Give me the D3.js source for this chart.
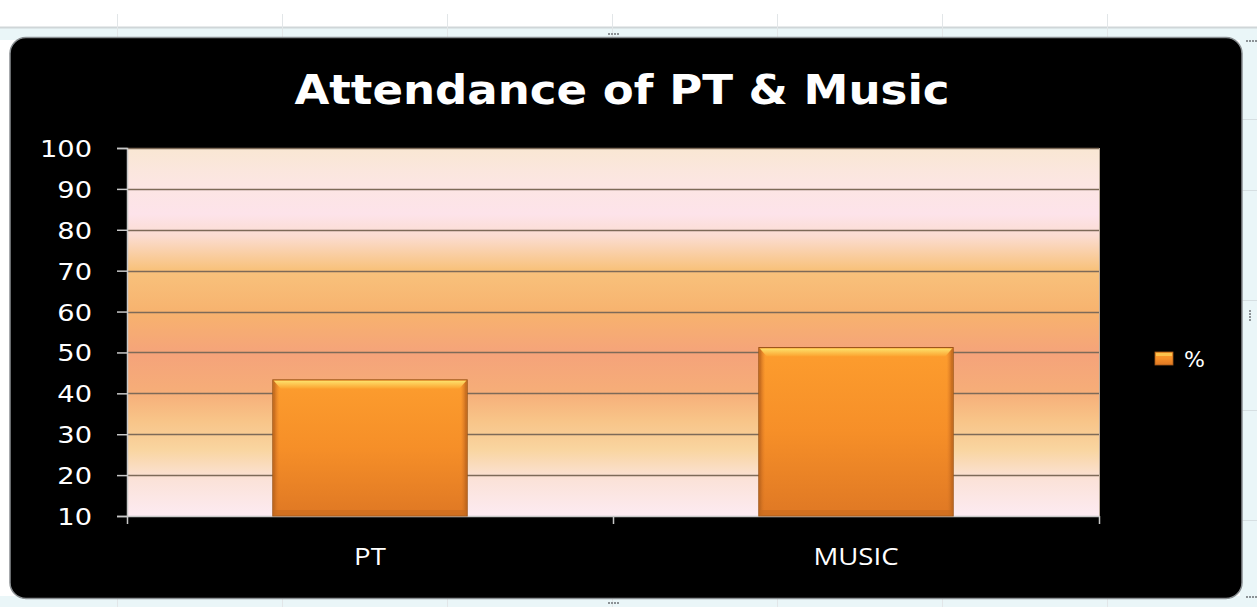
<!DOCTYPE html>
<html>
<head>
<meta charset="utf-8">
<script src="https://cdn.jsdelivr.net/npm/d3@7"></script>
<style>
  html, body { margin: 0; padding: 0; background: #ffffff; }
  svg { display: block; }
</style>
</head>
<body>
<div id="chart"></div>
<script>
// data
const categories = ['PT', 'MUSIC'];
const values = [43.3, 51.2];
const seriesName = '%';
const yTicks = [10, 20, 30, 40, 50, 60, 70, 80, 90, 100];
const title = 'Attendance of PT & Music';

const W = 1257, H = 607;
const plot = { left: 127, right: 1099, top: 148, bottom: 516 };

const svg = d3.select('#chart').append('svg')
  .attr('width', W)
  .attr('height', H);

const defs = svg.append('defs');

// plot background gradient
const bg = defs.append('linearGradient')
  .attr('id', 'plotBg')
  .attr('x1', 0).attr('y1', 0).attr('x2', 0).attr('y2', 1);
[[0, '#f9e7d3'], [0.09, '#fce6e2'], [0.18, '#fde3ea'], [0.24, '#fbdcd0'],
 [0.33, '#f8c27c'], [0.45, '#f7b26e'], [0.56, '#f5a37a'], [0.66, '#f6ad78'],
 [0.74, '#f8c488'], [0.82, '#f9d5a0'], [0.9, '#fbe2d8'], [1, '#fdebf2']]
  .forEach(s => bg.append('stop').attr('offset', s[0]).attr('stop-color', s[1]));

// bar gradient
const barG = defs.append('linearGradient')
  .attr('id', 'barFill')
  .attr('x1', 0).attr('y1', 0).attr('x2', 0).attr('y2', 1);
[[0, '#fd9d2e'], [0.5, '#f68f28'], [1, '#df7824']]
  .forEach(s => barG.append('stop').attr('offset', s[0]).attr('stop-color', s[1]));

const barTop = defs.append('linearGradient')
  .attr('id', 'barTop')
  .attr('x1', 0).attr('y1', 0).attr('x2', 0).attr('y2', 1);
[[0, '#fde06a'], [1, '#fca12e']]
  .forEach(s => barTop.append('stop').attr('offset', s[0]).attr('stop-color', s[1]));

const barSide = defs.append('linearGradient')
  .attr('id', 'barSide')
  .attr('x1', 0).attr('y1', 0).attr('x2', 1).attr('y2', 0);
[[0, '#b8621c', 1], [1, '#e07a24', 0]]
  .forEach(s => barSide.append('stop').attr('offset', s[0]).attr('stop-color', s[1]).attr('stop-opacity', s[2]));

// spreadsheet background
const sheet = svg.append('g');
sheet.append('rect').attr('x', 0).attr('y', 0).attr('width', W).attr('height', H).attr('fill', '#ffffff');
sheet.append('rect').attr('x', 0).attr('y', 28).attr('width', W).attr('height', 12).attr('fill', '#eaf6f8');
sheet.append('rect').attr('x', 1240).attr('y', 28).attr('width', 17).attr('height', H).attr('fill', '#eaf6f8');
sheet.append('rect').attr('x', 0).attr('y', 596).attr('width', W).attr('height', 11).attr('fill', '#eaf6f8');
sheet.append('line').attr('x1', 0).attr('x2', W).attr('y1', 27.5).attr('y2', 27.5)
  .attr('stroke', '#cfd6d8').attr('stroke-width', 2);
[117, 282, 447, 612, 777, 942, 1107].forEach(x => {
  sheet.append('line').attr('x1', x + 0.5).attr('x2', x + 0.5).attr('y1', 14).attr('y2', H)
    .attr('stroke', '#e2e6e8');
});
[119, 190, 300, 410, 520].forEach(y => {
  sheet.append('line').attr('x1', 1240).attr('x2', W).attr('y1', y + 0.5).attr('y2', y + 0.5)
    .attr('stroke', '#d6dfe2');
});

// chart frame
svg.append('rect')
  .attr('x', 10).attr('y', 37.5).attr('width', 1232).attr('height', 561)
  .attr('rx', 16).attr('ry', 16)
  .attr('fill', '#000000')
  .attr('stroke', '#8a8f92').attr('stroke-width', 1.5);

// handle dots
[[608, 33], [1246, 40], [1246, 596], [608, 602], [1249, 310]].forEach(p => {
  for (let i = 0; i < 4; i++) {
    const vertical = p[0] > 1240 && p[1] > 100 && p[1] < 500;
    svg.append('rect')
      .attr('x', vertical ? p[0] : p[0] + i * 3)
      .attr('y', vertical ? p[1] + i * 3 : p[1])
      .attr('width', 2).attr('height', 2)
      .attr('fill', '#8c9296');
  }
});

// title
svg.append('text')
  .attr('x', 0).attr('y', 0)
  .attr('transform', 'translate(622,104) scale(1.1,1)')
  .attr('text-anchor', 'middle')
  .attr('font-family', 'DejaVu Sans, Verdana, sans-serif')
  .attr('font-weight', 'bold')
  .attr('font-size', 41)
  .attr('fill', '#ffffff')
  .text(title);

// scales
const x = d3.scaleBand()
  .domain(categories)
  .range([plot.left, plot.right])
  .paddingInner(0.6)
  .paddingOuter(0.3);

const xOuter = d3.scaleBand()
  .domain(categories)
  .range([plot.left, plot.right]);

const y = d3.scaleLinear()
  .domain([10, 100])
  .range([plot.bottom, plot.top]);

// plot area
svg.append('rect')
  .attr('x', plot.left).attr('y', plot.top)
  .attr('width', plot.right - plot.left).attr('height', plot.bottom - plot.top)
  .attr('fill', 'url(#plotBg)');

// gridlines
svg.append('g')
  .selectAll('line')
  .data(yTicks.filter(d => d > 10))
  .join('line')
  .attr('x1', plot.left).attr('x2', plot.right)
  .attr('y1', d => Math.round(y(d)) + 0.5).attr('y2', d => Math.round(y(d)) + 0.5)
  .attr('stroke', '#7d6a58').attr('stroke-width', 1.4);

// plot right border
svg.append('line')
  .attr('x1', plot.right + 0.5).attr('x2', plot.right + 0.5)
  .attr('y1', plot.top).attr('y2', plot.bottom)
  .attr('stroke', '#b8a898');

// y axis
const yAxis = svg.append('g')
  .attr('transform', `translate(${plot.left},0)`)
  .call(d3.axisLeft(y).tickValues(yTicks).tickSize(10).tickPadding(0).tickFormat(d3.format('d')));
yAxis.select('.domain').attr('stroke', '#c8c8c8').attr('stroke-width', 1.5);
yAxis.selectAll('.tick line').attr('stroke', '#c8c8c8').attr('stroke-width', 1.5);
yAxis.selectAll('.tick text')
  .attr('fill', '#ffffff')
  .attr('font-family', 'DejaVu Sans, Verdana, sans-serif')
  .attr('font-size', 23.5)
  .attr('x', 0)
  .attr('dy', '0.36em')
  .attr('transform', 'translate(-35,0) scale(1.16,1)');

// x axis
const xAxis = svg.append('g')
  .attr('transform', `translate(0,${plot.bottom})`)
  .call(d3.axisBottom(xOuter).tickSize(0).tickPadding(0));
xAxis.select('.domain').attr('stroke', '#c8c8c8').attr('stroke-width', 1.5);
xAxis.selectAll('.tick text')
  .attr('fill', '#ffffff')
  .attr('font-family', 'Liberation Sans Narrow, Open Sans, sans-serif')
  .attr('font-size', 23)
  .attr('y', 0)
  .attr('dy', 0)
  .attr('transform', 'translate(0,49) scale(1.2,1)');
// category boundary ticks
svg.append('g')
  .selectAll('line')
  .data(categories.map(c => xOuter(c)).concat([plot.right]))
  .join('line')
  .attr('x1', d => d + 0.5).attr('x2', d => d + 0.5)
  .attr('y1', plot.bottom).attr('y2', plot.bottom + 8)
  .attr('stroke', '#c8c8c8').attr('stroke-width', 1.5);

// bars
const bars = svg.append('g')
  .selectAll('g')
  .data(categories.map((c, i) => ({ c, v: values[i] })))
  .join('g');

bars.append('rect')
  .attr('x', d => x(d.c))
  .attr('y', d => y(d.v))
  .attr('width', x.bandwidth())
  .attr('height', d => plot.bottom - y(d.v))
  .attr('fill', 'url(#barFill)')
  .attr('stroke', '#9b5418')
  .attr('stroke-width', 1);

// bevel: left and right shading
bars.append('rect')
  .attr('x', d => x(d.c) + 0.5)
  .attr('y', d => y(d.v) + 1)
  .attr('width', 6)
  .attr('height', d => plot.bottom - y(d.v) - 2)
  .attr('fill', 'url(#barSide)');
bars.append('rect')
  .attr('x', d => x(d.c) + x.bandwidth() - 6.5)
  .attr('y', d => y(d.v) + 1)
  .attr('width', 6)
  .attr('height', d => plot.bottom - y(d.v) - 2)
  .attr('fill', 'url(#barSide)')
  .attr('transform', d => `rotate(180,${x(d.c) + x.bandwidth() - 3.5},${(y(d.v) + plot.bottom) / 2})`);

// bevel: top highlight
bars.append('path')
  .attr('d', d => {
    const x0 = x(d.c) + 1, x1 = x(d.c) + x.bandwidth() - 1, t = y(d.v) + 1;
    return `M${x0},${t}L${x1},${t}L${x1 - 7},${t + 8}L${x0 + 7},${t + 8}Z`;
  })
  .attr('fill', 'url(#barTop)');

// bottom shade
bars.append('rect')
  .attr('x', d => x(d.c) + 1)
  .attr('y', plot.bottom - 6)
  .attr('width', x.bandwidth() - 2)
  .attr('height', 5)
  .attr('fill', '#c86a1e')
  .attr('opacity', 0.6);

// legend
const legend = svg.append('g').attr('transform', 'translate(1155,352)');
legend.append('rect')
  .attr('width', 18).attr('height', 13)
  .attr('fill', 'url(#barFill)')
  .attr('stroke', '#a35a1a').attr('stroke-width', 0.8);
legend.append('rect')
  .attr('x', 1).attr('y', 1).attr('width', 16).attr('height', 3)
  .attr('fill', '#fcc24c');
legend.append('text')
  .attr('x', 29).attr('y', 15)
  .attr('fill', '#ffffff')
  .attr('font-family', 'DejaVu Sans, Verdana, sans-serif')
  .attr('font-size', 22)
  .text(seriesName);
</script>
</body>
</html>
